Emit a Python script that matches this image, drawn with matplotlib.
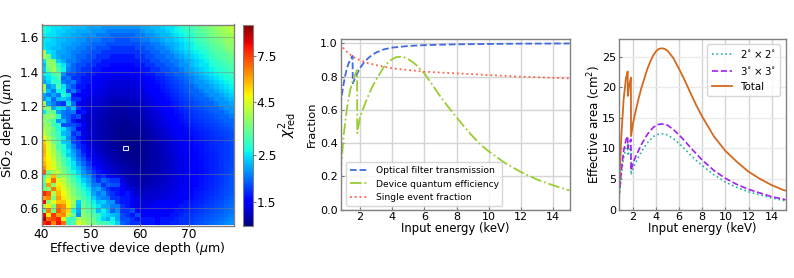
import numpy as np
import matplotlib
matplotlib.use("Agg")
import matplotlib.pyplot as plt
from matplotlib.colors import LogNorm
from matplotlib.patches import Rectangle

# chi2 map, top row first, split by column range
chi2_40s = [
[2.7,2.6,2.5,2.5,2.4,2.4,2.3,2.3,2.3,2.2],
[2.7,2.6,2.5,2.4,2.4,2.3,2.3,2.2,2.2,2.2],
[2.6,2.5,2.5,2.4,2.3,2.3,2.2,2.2,2.1,2.1],
[2.5,2.5,2.4,2.3,2.3,2.2,2.2,2.1,2.1,2.0],
[2.5,2.4,2.4,2.3,2.2,2.2,2.1,2.1,2.0,2.0],
[2.5,2.4,2.3,2.3,2.2,2.1,2.1,2.0,2.0,1.9],
[4.0,2.5,2.4,2.2,2.2,2.1,2.0,2.0,1.9,1.9],
[4.0,3.4,2.4,2.2,2.1,2.1,2.0,1.9,1.9,1.8],
[2.5,3.7,3.5,2.4,2.2,2.0,2.0,1.9,1.8,1.8],
[2.3,3.6,3.7,2.8,2.5,2.1,1.9,1.8,1.8,1.7],
[2.4,3.3,3.9,3.0,2.6,2.0,1.9,1.8,1.7,1.7],
[2.6,2.6,3.1,3.2,2.1,1.8,1.8,1.7,1.7,1.6],
[2.3,2.5,2.7,3.0,1.9,2.0,1.7,1.7,1.6,1.6],
[2.2,2.4,2.9,2.8,2.0,1.9,2.0,1.7,1.6,1.6],
[4.0,2.1,2.3,3.1,2.5,2.0,1.8,1.6,1.6,1.5],
[3.6,2.3,2.0,2.6,2.6,1.8,2.0,1.7,1.5,1.5],
[2.2,2.0,2.2,2.0,2.8,2.5,1.6,1.5,1.5,1.5],
[2.1,2.4,1.9,2.3,2.4,2.2,1.7,1.7,1.5,1.4],
[3.9,2.2,2.0,1.8,1.7,2.5,1.9,1.5,1.4,1.4],
[3.5,3.6,2.2,2.5,2.4,2.0,2.3,1.7,1.5,1.4],
[2.5,3.3,3.3,2.2,2.0,1.9,2.0,1.5,1.6,1.4],
[3.5,3.7,3.6,2.8,2.0,1.9,1.7,1.8,1.4,1.35],
[3.8,3.4,3.0,2.1,2.3,1.9,1.6,1.4,1.4,1.35],
[3.6,3.8,2.9,2.8,1.8,1.8,1.8,1.7,1.5,1.35],
[3.9,3.7,3.3,2.7,2.5,2.1,1.9,1.5,1.4,1.35],
[4.3,3.6,3.2,2.9,2.3,2.2,1.7,1.8,1.4,1.4],
[4.8,4.0,3.4,2.9,2.6,2.1,1.8,1.6,1.5,1.35],
[5.3,4.4,3.4,3.1,2.4,2.3,1.8,1.7,1.5,1.4],
[5.6,4.5,3.8,3.0,2.8,2.3,2.0,1.7,1.6,1.4],
[5.8,4.6,3.9,3.3,2.7,2.5,2.1,1.9,1.6,1.5],
[5.6,4.8,4.0,3.5,2.9,2.4,2.2,1.9,1.7,1.5],
[5.3,4.9,4.2,3.5,3.1,2.7,2.3,2.0,1.8,1.6],
[5.7,5.0,4.4,3.7,3.2,2.7,2.5,2.1,1.9,1.7],
[6.2,5.0,4.5,3.9,3.3,3.0,2.5,2.3,2.0,1.8],
[7.0,3.4,3.9,4.1,3.5,3.0,2.7,2.4,2.1,1.9],
[3.2,3.7,5.5,3.6,3.8,3.3,2.9,2.6,2.2,2.1],
[3.4,4.9,6.7,4.5,4.1,3.5,3.1,2.7,2.4,2.2],
[3.0,6.0,3.6,5.0,4.4,3.6,3.3,2.9,2.6,2.3],
[3.5,3.5,6.5,5.2,4.5,4.0,3.4,3.1,2.7,2.5],
[8.0,7.0,4.0,5.6,4.8,4.1,3.5,3.2,2.9,2.6],
[5.8,6.3,3.5,6.0,5.0,4.2,3.8,3.4,3.0,2.8],
[8.5,3.6,4.6,5.5,5.5,4.6,3.9,2.4,3.2,2.9],
[4.0,5.0,3.5,6.6,6.3,4.8,3.6,2.3,3.3,3.0],
[3.3,6.5,3.4,7.0,6.0,5.2,2.7,2.2,3.5,3.2],
[8.6,5.0,7.6,6.0,6.3,4.2,3.3,2.1,3.7,3.4],
[10.,6.8,7.4,8.0,4.5,3.0,2.9,4.0,3.8,3.5],
[8.0,8.5,6.2,8.3,6.7,2.8,3.2,4.4,4.0,3.6],
]
chi2_50s = [
[2.2,2.2,2.1,2.1,2.1,2.1,2.1,2.1,2.1,2.1],
[2.1,2.1,2.1,2.0,2.0,2.0,2.0,2.0,2.0,2.0],
[2.1,2.0,2.0,2.0,1.9,1.9,1.9,1.9,1.9,2.0],
[2.0,2.0,1.9,1.9,1.9,1.8,1.8,1.8,1.9,1.9],
[1.9,1.9,1.9,1.8,1.8,1.8,1.8,1.8,1.8,1.8],
[1.9,1.8,1.8,1.8,1.7,1.7,1.7,1.7,1.7,1.8],
[1.8,1.8,1.7,1.7,1.7,1.7,1.7,1.7,1.7,1.7],
[1.8,1.7,1.7,1.7,1.6,1.6,1.6,1.6,1.6,1.7],
[1.7,1.7,1.6,1.6,1.6,1.6,1.6,1.6,1.6,1.6],
[1.7,1.6,1.6,1.6,1.55,1.55,1.55,1.55,1.55,1.6],
[1.6,1.6,1.55,1.5,1.5,1.5,1.5,1.5,1.5,1.55],
[1.6,1.55,1.5,1.5,1.47,1.45,1.45,1.45,1.47,1.5],
[1.52,1.49,1.46,1.43,1.41,1.40,1.40,1.41,1.42,1.44],
[1.50,1.47,1.44,1.41,1.39,1.38,1.38,1.39,1.40,1.42],
[1.48,1.44,1.41,1.39,1.37,1.36,1.36,1.37,1.38,1.40],
[1.45,1.42,1.39,1.37,1.35,1.34,1.34,1.35,1.36,1.38],
[1.43,1.40,1.37,1.35,1.33,1.32,1.32,1.33,1.34,1.36],
[1.41,1.38,1.35,1.33,1.31,1.30,1.30,1.31,1.32,1.34],
[1.39,1.36,1.33,1.31,1.29,1.28,1.28,1.29,1.30,1.32],
[1.37,1.34,1.31,1.29,1.27,1.26,1.26,1.27,1.28,1.30],
[1.35,1.32,1.29,1.27,1.25,1.24,1.24,1.25,1.26,1.28],
[1.34,1.31,1.28,1.26,1.24,1.23,1.22,1.23,1.25,1.26],
[1.33,1.30,1.27,1.25,1.23,1.22,1.21,1.22,1.23,1.25],
[1.33,1.29,1.27,1.24,1.22,1.21,1.20,1.21,1.22,1.24],
[1.33,1.29,1.26,1.24,1.22,1.20,1.19,1.20,1.21,1.22],
[1.33,1.29,1.26,1.24,1.22,1.20,1.19,1.19,1.20,1.21],
[1.34,1.30,1.27,1.24,1.22,1.20,1.19,1.18,1.19,1.20],
[1.35,1.31,1.28,1.25,1.23,1.21,1.19,1.18,1.18,1.19],
[1.37,1.32,1.29,1.26,1.23,1.21,1.19,1.18,1.18,1.19],
[1.39,1.34,1.30,1.27,1.24,1.22,1.20,1.19,1.18,1.19],
[1.42,1.37,1.32,1.29,1.26,1.23,1.21,1.20,1.19,1.19],
[1.45,1.40,1.34,1.31,1.28,1.25,1.23,1.21,1.20,1.20],
[1.50,1.44,1.38,1.33,1.30,1.27,1.25,1.23,1.21,1.21],
[1.60,1.50,1.42,1.37,1.33,1.30,1.27,1.25,1.23,1.22],
[1.70,1.60,1.50,1.41,1.36,1.32,1.29,1.27,1.25,1.24],
[1.80,1.60,1.70,1.50,1.40,1.40,1.32,1.29,1.27,1.26],
[1.90,1.70,1.90,1.80,1.70,1.70,1.40,1.31,1.29,1.28],
[2.0,2.0,1.7,1.9,1.8,1.8,1.5,1.36,1.31,1.30],
[2.1,2.2,1.9,1.7,1.6,1.6,1.5,1.42,1.37,1.33],
[2.2,2.0,2.1,1.8,1.7,1.6,1.5,1.6,1.40,1.35],
[2.4,2.1,2.0,2.0,1.7,1.7,1.6,1.6,1.5,1.4],
[2.6,2.3,2.4,2.1,2.1,1.7,1.6,1.6,1.5,1.4],
[2.7,2.5,2.2,2.2,2.0,2.0,1.7,1.6,1.5,1.4],
[2.9,2.3,2.6,2.3,1.9,2.1,1.7,1.7,1.8,1.5],
[3.1,2.9,2.5,2.4,2.3,2.2,1.8,1.7,1.6,1.8],
[3.3,2.8,2.4,2.2,2.6,2.2,1.8,1.8,1.7,1.6],
[3.4,3.1,3.0,2.9,2.7,2.4,1.9,1.8,1.7,1.7],
]
chi2_60s = [
[2.2,2.2,2.3,2.3,2.4,2.5,2.5,2.6,2.8,2.9],
[2.1,2.2,2.2,2.3,2.3,2.4,2.5,2.6,2.7,2.8],
[2.0,2.1,2.1,2.2,2.3,2.3,2.4,2.5,2.6,2.7],
[2.0,2.0,2.1,2.1,2.2,2.3,2.3,2.4,2.5,2.6],
[1.9,1.9,2.0,2.0,2.1,2.2,2.2,2.3,2.4,2.5],
[1.8,1.9,1.9,2.0,2.0,2.1,2.2,2.3,2.4,2.5],
[1.8,1.8,1.9,1.9,2.0,2.0,2.1,2.2,2.3,2.4],
[1.7,1.8,1.8,1.9,1.9,2.0,2.0,2.1,2.2,2.3],
[1.7,1.7,1.8,1.8,1.9,1.9,2.0,2.0,2.1,2.2],
[1.6,1.7,1.7,1.8,1.8,1.9,1.9,2.0,2.1,2.1],
[1.6,1.6,1.7,1.7,1.8,1.8,1.9,1.9,2.0,2.1],
[1.55,1.6,1.6,1.7,1.7,1.8,1.8,1.9,1.9,2.0],
[1.47,1.51,1.56,1.61,1.66,1.71,1.76,1.81,1.87,1.93],
[1.45,1.49,1.53,1.58,1.63,1.68,1.73,1.78,1.84,1.90],
[1.43,1.47,1.51,1.55,1.60,1.65,1.70,1.75,1.81,1.86],
[1.41,1.45,1.48,1.52,1.57,1.62,1.67,1.72,1.77,1.83],
[1.39,1.42,1.46,1.50,1.54,1.59,1.64,1.69,1.74,1.79],
[1.37,1.40,1.44,1.47,1.52,1.56,1.61,1.66,1.71,1.76],
[1.35,1.38,1.41,1.45,1.49,1.53,1.58,1.63,1.68,1.73],
[1.33,1.36,1.39,1.43,1.46,1.50,1.55,1.60,1.65,1.70],
[1.31,1.34,1.37,1.41,1.44,1.48,1.52,1.57,1.62,1.67],
[1.29,1.32,1.35,1.38,1.42,1.46,1.50,1.54,1.59,1.64],
[1.27,1.30,1.33,1.36,1.40,1.44,1.48,1.52,1.57,1.61],
[1.26,1.28,1.31,1.35,1.38,1.42,1.46,1.50,1.54,1.58],
[1.24,1.27,1.30,1.33,1.36,1.40,1.44,1.48,1.52,1.56],
[1.23,1.25,1.28,1.31,1.35,1.38,1.42,1.46,1.50,1.54],
[1.22,1.24,1.27,1.30,1.33,1.37,1.40,1.44,1.48,1.52],
[1.21,1.23,1.26,1.29,1.32,1.35,1.39,1.42,1.46,1.50],
[1.21,1.23,1.25,1.28,1.31,1.34,1.38,1.41,1.45,1.49],
[1.20,1.22,1.25,1.27,1.30,1.33,1.37,1.40,1.44,1.48],
[1.20,1.22,1.24,1.27,1.30,1.33,1.36,1.39,1.43,1.47],
[1.21,1.22,1.24,1.27,1.29,1.32,1.35,1.39,1.42,1.46],
[1.21,1.23,1.25,1.27,1.29,1.32,1.35,1.38,1.42,1.45],
[1.22,1.24,1.25,1.27,1.30,1.32,1.35,1.38,1.42,1.45],
[1.23,1.24,1.26,1.28,1.30,1.33,1.36,1.39,1.42,1.45],
[1.25,1.26,1.27,1.29,1.31,1.34,1.37,1.39,1.42,1.46],
[1.26,1.27,1.28,1.30,1.32,1.35,1.37,1.40,1.43,1.46],
[1.28,1.29,1.30,1.32,1.34,1.36,1.38,1.41,1.44,1.47],
[1.30,1.31,1.32,1.34,1.35,1.37,1.40,1.42,1.45,1.48],
[1.32,1.33,1.34,1.35,1.37,1.39,1.41,1.44,1.47,1.50],
[1.34,1.35,1.36,1.37,1.39,1.41,1.43,1.46,1.49,1.52],
[1.4,1.4,1.4,1.45,1.45,1.45,1.5,1.5,1.55,1.6],
[1.4,1.4,1.45,1.45,1.5,1.5,1.5,1.55,1.6,1.6],
[1.5,1.5,1.5,1.5,1.5,1.5,1.55,1.6,1.6,1.65],
[1.5,1.5,1.5,1.5,1.5,1.55,1.6,1.6,1.65,1.7],
[1.6,1.6,1.6,1.55,1.6,1.6,1.6,1.65,1.7,1.7],
[1.6,1.6,1.6,1.55,1.6,1.6,1.65,1.65,1.7,1.7],
]
chi2_70s = [
[3.0,3.2,3.3,3.4,3.6,3.7,3.9,4.0,4.2],
[2.9,3.1,3.2,3.3,3.5,3.6,3.8,3.9,4.1],
[2.8,3.0,3.1,3.2,3.4,3.5,3.7,3.8,3.9],
[2.7,2.9,3.0,3.1,3.3,3.4,3.5,3.7,3.8],
[2.6,2.8,2.9,3.0,3.2,3.3,3.4,3.6,3.7],
[2.6,2.7,2.8,2.9,3.1,3.2,3.3,3.5,3.6],
[2.5,2.6,2.7,2.8,3.0,3.1,3.2,3.3,3.5],
[2.4,2.5,2.6,2.7,2.9,3.0,3.1,3.2,3.3],
[2.3,2.4,2.5,2.6,2.8,2.9,3.0,3.1,3.2],
[2.3,2.4,2.5,2.5,2.7,2.8,2.9,3.0,3.1],
[2.2,2.3,2.4,2.5,2.6,2.7,2.8,2.9,3.0],
[2.1,2.2,2.3,2.4,2.5,2.6,2.7,2.8,2.9],
[2.0,2.1,2.2,2.3,2.4,2.5,2.6,2.7,2.8],
[2.0,2.1,2.1,2.2,2.3,2.4,2.5,2.6,2.7],
[1.9,2.0,2.1,2.1,2.2,2.3,2.4,2.5,2.6],
[1.9,1.9,2.0,2.1,2.1,2.2,2.3,2.4,2.5],
[1.85,1.9,1.9,2.0,2.1,2.1,2.2,2.3,2.4],
[1.8,1.85,1.9,1.9,2.0,2.1,2.1,2.2,2.3],
[1.78,1.8,1.85,1.9,1.9,2.0,2.1,2.1,2.2],
[1.75,1.77,1.8,1.85,1.9,1.9,2.0,2.1,2.1],
[1.72,1.75,1.77,1.8,1.85,1.9,1.9,2.0,2.1],
[1.69,1.72,1.75,1.77,1.8,1.85,1.9,1.9,2.0],
[1.66,1.69,1.72,1.75,1.77,1.8,1.85,1.9,1.9],
[1.63,1.66,1.69,1.72,1.75,1.77,1.8,1.85,1.9],
[1.60,1.63,1.66,1.69,1.72,1.75,1.77,1.8,1.85],
[1.57,1.60,1.63,1.66,1.69,1.72,1.75,1.77,1.8],
[1.55,1.58,1.61,1.64,1.67,1.70,1.72,1.75,1.8],
[1.54,1.57,1.60,1.63,1.66,1.68,1.70,1.74,1.78],
[1.53,1.56,1.59,1.62,1.65,1.67,1.70,1.73,1.77],
[1.52,1.55,1.58,1.61,1.64,1.67,1.70,1.73,1.77],
[1.51,1.54,1.57,1.60,1.63,1.66,1.70,1.73,1.77],
[1.50,1.53,1.56,1.60,1.63,1.66,1.70,1.73,1.78],
[1.49,1.52,1.56,1.60,1.63,1.66,1.70,1.74,1.78],
[1.49,1.52,1.56,1.60,1.63,1.66,1.70,1.74,1.79],
[1.49,1.53,1.56,1.60,1.63,1.67,1.70,1.75,1.80],
[1.50,1.53,1.57,1.60,1.64,1.67,1.71,1.76,1.81],
[1.50,1.54,1.57,1.61,1.64,1.68,1.72,1.77,1.82],
[1.51,1.55,1.58,1.62,1.65,1.69,1.73,1.78,1.83],
[1.52,1.56,1.59,1.63,1.66,1.70,1.74,1.79,1.84],
[1.54,1.58,1.61,1.65,1.68,1.72,1.76,1.81,1.86],
[1.56,1.60,1.63,1.67,1.70,1.74,1.78,1.83,1.88],
[1.6,1.63,1.66,1.7,1.73,1.77,1.8,1.85,1.9],
[1.63,1.66,1.69,1.73,1.76,1.8,1.83,1.88,1.93],
[1.67,1.7,1.73,1.77,1.8,1.83,1.87,1.92,1.97],
[1.7,1.73,1.77,1.8,1.83,1.87,1.9,1.95,2.0],
[1.73,1.77,1.8,1.83,1.87,1.9,1.95,2.0,2.05],
[1.75,1.8,1.83,1.87,1.9,1.95,2.0,2.05,2.1],
]

# middle panel
e_filter = [0.8,0.9,1.0,1.1,1.2,1.3,1.4,1.55,1.56,1.7,1.84,2,2.25,2.5,2.75,3,3.5,4,5,6,8,10,12,15]
filter_tr = [.63,.70,.76,.81,.85,.88,.90,.925,.76,.79,.82,.85,.885,.91,.93,.945,.965,.975,.985,.99,.995,.997,.999,1.0]
e_qe = [0.8,0.9,1.0,1.2,1.4,1.55,1.7,1.83,1.84,2,2.25,2.5,2.75,3,3.25,3.5,3.75,4,4.25,4.5,4.75,5,5.25,5.5,6,6.5,7,7.5,8,8.5,9,9.5,10,11,12,13,14,15]
qe = [.22,.33,.45,.61,.72,.77,.81,.84,.46,.55,.62,.68,.735,.78,.82,.86,.885,.905,.917,.92,.917,.905,.89,.87,.82,.75,.68,.615,.555,.495,.44,.39,.35,.28,.225,.18,.145,.115]
e_single = [0.8,0.9,1,1.25,1.5,1.75,2,2.5,3,3.5,4,5,6,8,10,12,15]
single = [1.0,.985,.97,.945,.925,.91,.90,.882,.87,.86,.85,.84,.83,.82,.81,.80,.79]

# right panel
e_area = [0.8,0.9,1.0,1.1,1.2,1.4,1.55,1.56,1.7,1.83,1.84,2,2.25,2.5,2.75,3,3.25,3.5,3.75,4,4.25,4.5,4.75,5,5.5,6,6.5,7,7.5,8,9,10,11,12,13,14,15,15.2]
area_total = [3,7.5,12,15,18,21.5,22.6,18.6,20.5,21.6,12,14,16.2,18.2,20,21.5,23,24.2,25.2,25.9,26.3,26.4,26.3,26,24.8,23,21.1,19,17,15.2,12,9.6,7.8,6.2,5.0,4.0,3.2,3.1]
area_3x3 = [2.2,4,6.4,8,9.6,11.4,12,10,11,11.5,6.4,7.5,8.7,9.7,10.7,11.5,12.3,12.9,13.4,13.8,13.95,14,13.95,13.8,13.1,12.2,11.2,10.1,9.1,8.1,6.4,5.1,4.1,3.3,2.7,2.1,1.7,1.6]
area_2x2 = [2,3.6,5.7,7.1,8.5,10.1,10.6,8.8,9.7,10.2,5.7,6.6,7.7,8.6,9.5,10.2,10.9,11.4,11.9,12.2,12.35,12.4,12.35,12.2,11.6,10.8,9.9,8.9,8.0,7.2,5.7,4.5,3.6,2.9,2.4,1.9,1.5,1.4]

xticks_en = [2,4,6,8,10,12,14]

fig = plt.figure(figsize=(7.94,2.78), dpi=100)
W, H = 794., 278.

def add_axes(x0,x1,y0,y1):
    return fig.add_axes([x0/W,1-y1/H,(x1-x0)/W,(y1-y0)/H])

def style(ax,size):
    for s in ax.spines.values():
        s.set_color('#808080')
        s.set_linewidth(1.0)
    ax.tick_params(direction='in',labelsize=size,pad=2,length=2,color='#777777')

# heatmap
ax1 = add_axes(41.5,233.5,24.5,225.5)
chi2 = np.hstack([chi2_40s,chi2_50s,chi2_60s,chi2_70s])[::-1]
x_edges = np.arange(40,80)
y_edges = 0.5+0.025*np.arange(48)
pc = ax1.pcolormesh(x_edges,y_edges,chi2,cmap='jet',norm=LogNorm(vmin=1.157,vmax=10.55))
ax1.add_patch(Rectangle((56.6,0.94),1.05,0.025,fill=False,ec='#e0e0f0',lw=0.8))
ax1.set_xticks([40,50,60,70])
ax1.set_yticks([0.6,0.8,1.0,1.2,1.4,1.6])
ax1.grid(color='gray',alpha=0.45,lw=0.8)
ax1.set_xlabel(r'Effective device depth ($\mu$m)',fontsize=9.1,labelpad=-1)
ax1.set_ylabel(r'SiO$_2$ depth ($\mu$m)',fontsize=9.3,labelpad=2)
style(ax1,8.8)

cax = add_axes(242.7,252.7,24.5,225.5)
cb = fig.colorbar(pc,cax=cax)
cb.set_ticks([1.5,2.5,4.5,7.5])
cb.set_ticklabels(['1.5','2.5','4.5','7.5'])
cb.minorticks_off()
cb.set_label(r'$\chi^2_{\rm red}$',fontsize=10,labelpad=0)
cb.outline.set_edgecolor('#808080')
cax.tick_params(labelsize=8.8,length=2,pad=1,color='#777777')

# fractions
ax2 = add_axes(340.5,569.5,38.5,209.5)
ax2.plot(e_filter,filter_tr,color='royalblue',ls='--',lw=1.3,label='Optical filter transmission')
ax2.plot(e_qe,qe,color='yellowgreen',ls='-.',lw=1.3,label='Device quantum efficiency')
ax2.plot(e_single,single,color='tomato',ls=':',lw=1.3,label='Single event fraction')
ax2.set_xlim(0.8,15)
ax2.set_ylim(0,1.03)
ax2.set_xticks(xticks_en)
ax2.set_yticks([0,.2,.4,.6,.8,1.0])
ax2.grid(color='#d4d4d4',lw=1.0)
ax2.set_xlabel('Input energy (keV)',fontsize=8.4,labelpad=0)
ax2.set_ylabel('Fraction',fontsize=8.2,labelpad=2)
style(ax2,8)
ax2.legend(loc='lower left',fontsize=6.6,borderaxespad=0.4,bbox_to_anchor=(0.01,0.0))

# effective area
ax3 = add_axes(619,785.5,38.5,209.5)
ax3.plot(e_area,area_2x2,color='lightseagreen',ls=':',lw=1.2,label=r'2$^{\circ}\times$2$^{\circ}$')
ax3.plot(e_area,area_3x3,color='#a020f0',ls='--',lw=1.2,label=r'3$^{\circ}\times$3$^{\circ}$')
ax3.plot(e_area,area_total,color='chocolate',lw=1.3,label='Total')
ax3.set_xlim(0.8,15.2)
ax3.set_ylim(0,28)
ax3.set_xticks(xticks_en)
ax3.set_yticks([0,5,10,15,20,25])
ax3.grid(axis='x',color='#d4d4d4',lw=1.0)
ax3.grid(axis='y',color='#ebebeb',lw=1.0)
ax3.set_xlabel('Input energy (keV)',fontsize=8.4,labelpad=0)
ax3.set_ylabel(r'Effective area (cm$^2$)',fontsize=8.5,labelpad=-1)
style(ax3,8)
ax3.legend(loc='upper right',fontsize=7.4)

fig.savefig('out.png',dpi=100)
